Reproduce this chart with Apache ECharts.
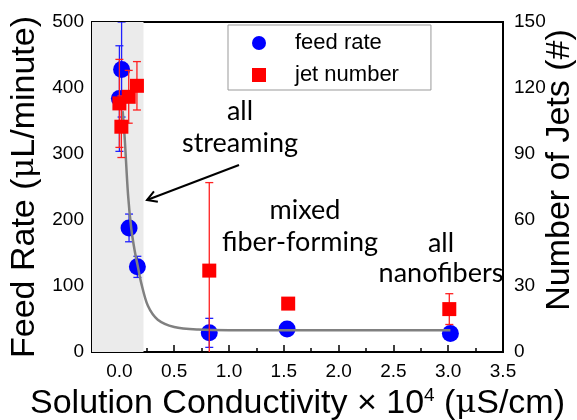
<!DOCTYPE html>
<html><head><meta charset="utf-8">
<script src="https://cdn.jsdelivr.net/npm/echarts@6/dist/echarts.min.js"></script>
<style>html,body{margin:0;padding:0;background:#fff}#c{width:577px;height:420px}</style>
</head><body><div id="c"></div>
<script>
// Feed rate (left axis, µL/minute)
const feedX   = [0.0, 0.02, 0.088, 0.164, 0.82, 1.53, 3.02];
const feedY   = [384, 428, 188, 129, 29, 35, 28];
const feedErr = [80, 72, 21, 16, 22, 3, 3];
// Jet number (right axis, #)
const jetX   = [0.0, 0.018, 0.085, 0.16, 0.82, 1.54, 3.01];
const jetY   = [113, 102.4, 116, 121, 37, 22, 19.5];
const jetErr = [20, 14, 12, 11, 40, 1, 7];
// Fitted decay curve (left axis)
const fitX = [0.03, 0.048, 0.079, 0.109, 0.14, 0.17, 0.20, 0.26, 0.35, 0.50, 0.72, 1.0, 1.5, 3.02];
const fitY = [365, 325, 238, 186, 153, 128, 104, 70, 49, 38, 34, 33, 33, 33];
// Shaded "all streaming" region
const shadeRange = [-0.25, 0.22];
// Axis ranges / ticks
const xRange = [-0.25, 3.5];
const yLeftRange = [0, 500], yLeftStep = 100;
const yRightRange = [0, 150], yRightStep = 30;
const legendNames = ['feed rate', 'jet number'];

const zip3 = (a, b, c) => a.map((v, i) => [v, b[i], c[i]]);
const zip2 = (a, b) => a.map((v, i) => [v, b[i]]);

function errRender(color) {
  return function (params, api) {
    const x = api.value(0), y = api.value(1), e = api.value(2);
    const top = api.coord([x, y + e]);
    const bot = api.coord([x, y - e]);
    const w = 4;
    const st = { stroke: color, lineWidth: 1.3 };
    return {
      type: 'group',
      children: [
        { type: 'line', shape: { x1: top[0], y1: top[1], x2: bot[0], y2: bot[1] }, style: st },
        { type: 'line', shape: { x1: top[0] - w, y1: top[1], x2: top[0] + w, y2: top[1] }, style: st },
        { type: 'line', shape: { x1: bot[0] - w, y1: bot[1], x2: bot[0] + w, y2: bot[1] }, style: st }
      ]
    };
  };
}

const labelFont = { fontFamily: 'Liberation Sans', fontSize: 19, color: '#000' };
const titleFont = { fontFamily: 'Liberation Sans', fontSize: 34, color: '#000' };
const annFont = '27px Lato';

const chart = echarts.init(document.getElementById('c'), null, { renderer: 'canvas' });

// arrow geometry (annotation, pixel space)
const aFrom = [239, 165], aTo = [147, 200];
const dx = aFrom[0] - aTo[0], dy = aFrom[1] - aTo[1];
const L = Math.hypot(dx, dy), ux = dx / L, uy = dy / L;
const hl = 11, c30 = Math.cos(Math.PI / 6), s30 = Math.sin(Math.PI / 6);
const h1 = [aTo[0] + hl * (ux * c30 - uy * s30), aTo[1] + hl * (ux * s30 + uy * c30)];
const h2 = [aTo[0] + hl * (ux * c30 + uy * s30), aTo[1] + hl * (-ux * s30 + uy * c30)];

function txt(t, x, y) {
  return { type: 'text', z: 100, style: { text: t, x: x, y: y, align: 'center', verticalAlign: 'middle', font: annFont, fill: '#000' } };
}

chart.setOption({
  animation: false,
  backgroundColor: '#fff',
  grid: { left: 92, right: 74, top: 22, bottom: 68, outerBoundsMode: 'none', containLabel: false,
          show: true, borderColor: '#000', borderWidth: 2, backgroundColor: 'transparent' },
  legend: {
    data: [{ name: legendNames[0], icon: 'circle' }, { name: legendNames[1], icon: 'rect' }],
    orient: 'vertical', left: 228, top: 25,
    itemWidth: 14, itemHeight: 14, itemGap: 10,
    padding: [7, 32, 4, 24],
    borderColor: '#999', borderWidth: 1,
    textStyle: { fontFamily: 'Liberation Sans', fontSize: 22, lineHeight: 22, color: '#000', padding: [0, 0, 0, 24] }
  },
  xAxis: [{
    type: 'value', min: xRange[0], max: xRange[1], interval: 0.25,
    axisLine: { show: true, onZero: false, lineStyle: { color: '#000', width: 2 } },
    axisTick: { show: true, inside: true, length: 4, lineStyle: { color: '#000', width: 1.5 } },
    splitLine: { show: false },
    axisLabel: Object.assign({ margin: 10, formatter: function (v) {
      const r = Math.round(v * 100) / 100;
      if (r < 0) return '';
      if (Math.abs(r * 2 - Math.round(r * 2)) > 1e-6) return '';
      return r.toFixed(1);
    } }, labelFont),
    name: 'Solution Conductivity × 10{sup|4} ({mu|μ}S/cm)',
    nameLocation: 'middle', nameGap: 28,
    nameTextStyle: Object.assign({}, titleFont, {
      rich: {
        sup: { fontFamily: 'Liberation Sans', fontSize: 19, color: '#000', padding: [0, 0, 16, 0] },
        mu: { fontFamily: 'DejaVu Serif', fontSize: 32, color: '#000' }
      }
    })
  }, {
    type: 'value', min: xRange[0], max: xRange[1], splitNumber: 7, position: 'bottom',
    axisLine: { show: false },
    axisTick: { show: true, inside: true, length: 7, lineStyle: { color: '#000', width: 1.5 } },
    axisLabel: { show: false }, splitLine: { show: false }
  }],
  yAxis: [{
    type: 'value', min: yLeftRange[0], max: yLeftRange[1], interval: yLeftStep, position: 'left',
    axisLine: { show: true, lineStyle: { color: '#000', width: 2 } },
    axisTick: { show: true, inside: true, length: 7, lineStyle: { color: '#000', width: 1.5 } },
    minorTick: { show: true, splitNumber: 2, length: 4, lineStyle: { color: '#000', width: 1.5 } },
    splitLine: { show: false },
    axisLabel: Object.assign({ margin: 8 }, labelFont),
    name: 'Feed Rate ({mu|μ}L/minute)', nameLocation: 'middle', nameGap: 48,
    nameTextStyle: Object.assign({}, titleFont, { rich: { mu: { fontFamily: 'DejaVu Serif', fontSize: 32, color: '#000' } } })
  }, {
    type: 'value', min: yRightRange[0], max: yRightRange[1], interval: yRightStep, position: 'right',
    axisLine: { show: true, lineStyle: { color: '#000', width: 2 } },
    axisTick: { show: true, inside: true, length: 7, lineStyle: { color: '#000', width: 1.5 } },
    minorTick: { show: true, splitNumber: 2, length: 4, lineStyle: { color: '#000', width: 1.5 } },
    splitLine: { show: false },
    axisLabel: Object.assign({ margin: 11 }, labelFont)
  }],
  series: [
    {
      name: 'feed rate err', type: 'custom', xAxisIndex: 0, yAxisIndex: 0, z: 2, clip: true,
      renderItem: errRender('#2020ff'), data: zip3(feedX, feedY, feedErr),
      encode: { x: 0, y: [1, 2] }, silent: true
    },
    {
      name: legendNames[0], type: 'scatter', xAxisIndex: 0, yAxisIndex: 0, z: 3,
      symbol: 'circle', symbolSize: 17, itemStyle: { color: '#0000ff', opacity: 1 },
      data: zip2(feedX, feedY)
    },
    {
      name: 'fit', type: 'line', xAxisIndex: 0, yAxisIndex: 0, z: 4,
      showSymbol: false, smooth: 0.3, lineStyle: { color: '#808080', width: 2.5 },
      data: zip2(fitX, fitY),
      markArea: { silent: true, itemStyle: { color: '#ebebeb' }, data: [[{ xAxis: shadeRange[0] }, { xAxis: shadeRange[1] }]] }
    },
    {
      name: 'jet number err', type: 'custom', xAxisIndex: 0, yAxisIndex: 1, z: 5, clip: true,
      renderItem: errRender('#ff2020'), data: zip3(jetX, jetY, jetErr),
      encode: { x: 0, y: [1, 2] }, silent: true
    },
    {
      name: legendNames[1], type: 'scatter', xAxisIndex: 0, yAxisIndex: 1, z: 6,
      symbol: 'rect', symbolSize: 14, itemStyle: { color: '#ff0000', opacity: 1 },
      data: zip2(jetX, jetY)
    }
  ],
  graphic: [
    txt('all', 240, 111), txt('streaming', 240, 143),
    txt('mixed', 305, 210), txt('fiber-forming', 300, 242),
    txt('all', 441, 243), txt('nanofibers', 441, 273),
    { type: 'text', z: 100, x: 560, y: 170, rotation: Math.PI / 2,
      style: { text: 'Number of Jets (#)', x: 0, y: 0, align: 'center', verticalAlign: 'middle', font: '34px "Liberation Sans"', fill: '#000' } },
    { type: 'line', z: 100, shape: { x1: aFrom[0], y1: aFrom[1], x2: aTo[0], y2: aTo[1] }, style: { stroke: '#000', lineWidth: 2 } },
    { type: 'polyline', z: 100, shape: { points: [h1, aTo, h2] }, style: { stroke: '#000', lineWidth: 2, fill: null } }
  ]
});
</script></body></html>
